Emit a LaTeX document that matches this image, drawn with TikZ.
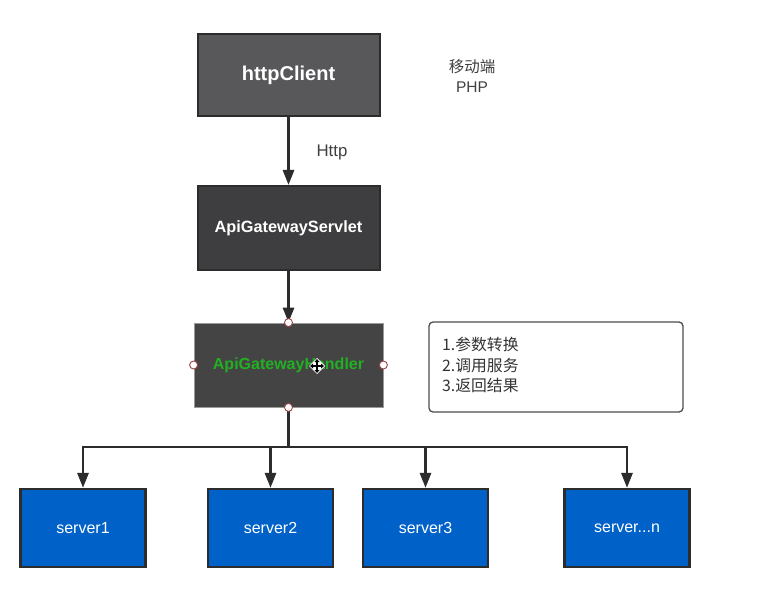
\documentclass[tikz,border=0pt]{standalone}
\usepackage{fontspec}
\setmainfont{Liberation Sans}
\newfontfamily\cjk{Noto Sans CJK SC}
\usetikzlibrary{arrows.meta}
\definecolor{boxA}{HTML}{58575A}
\definecolor{boxB}{HTML}{3E3E40}
\definecolor{boxC}{HTML}{444444}
\definecolor{edge}{HTML}{2C2C2C}
\definecolor{srv}{HTML}{0062C9}
\definecolor{hgreen}{HTML}{22B023}
\definecolor{handle}{HTML}{A04545}
\tikzset{
  darkbox/.style={draw=edge, line width=2pt, minimum width=182pt, minimum height=82pt, inner sep=0pt, text=white},
  srvbox/.style={draw=edge, fill=srv, line width=2.2pt, minimum width=125pt, minimum height=78pt, inner sep=0pt, text=white, font=\fontsize{16}{18}\selectfont},
  conn/.style={draw=edge, line width=2.8pt, -{Triangle[length=15pt,width=11pt]}},
  plain/.style={draw=edge, line width=2.8pt},
  handlept/.style={circle, draw=handle, fill=white, line width=0.9pt, minimum size=8pt, inner sep=0pt},
}
\begin{document}
\begin{tikzpicture}[x=1pt,y=-1pt]
\useasboundingbox (0,0) rectangle (781,601);
\fill[white] (0,0) rectangle (781,601);

\node[darkbox, fill=boxA, font=\bfseries\fontsize{20}{22}\selectfont] (client) at (288.5,75.5) {httpClient};
\node[darkbox, fill=boxB, minimum height=84pt, font=\bfseries\fontsize{16.3}{19}\selectfont] (servlet) at (288.5,228) {ApiGatewayServlet};
\node[draw=gray!80, fill=boxC, line width=0.8pt, minimum width=189pt, minimum height=84pt, inner sep=0pt, text=hgreen, font=\bfseries\fontsize{16}{19}\selectfont] (handler) at (288.5,365) {ApiGatewayHandler};

\draw[conn] (client.south) -- (servlet.north);
\node[font=\fontsize{16.8}{19}\selectfont, text=black!75] (http) at (332,152) {Http};
\draw[conn] (servlet.south) -- (handler.north);

\node[align=center, text=black!75, font=\fontsize{15.5}{20}\selectfont, inner sep=0pt] (mobile) at (472,76) {{\cjk 移动端}\\PHP};

\node[draw=black!70, rounded corners=4pt, line width=1.3pt, minimum width=254pt, minimum height=90pt, inner sep=0pt] (note) at (556,367) {};
\node[anchor=north west, align=left, inner sep=0pt, text=black!80, font=\cjk\fontsize{15.8}{20.5}\selectfont] (notetext) at (442,337) {1.参数转换\\2.调用服务\\3.返回结果};

\node[srvbox] (s1) at (83,528) {server1};
\node[srvbox] (s2) at (270.5,528) {server2};
\node[srvbox] (s3) at (425.5,528) {server3};
\node[srvbox] (sn) at (627,528) {server...n};

\coordinate (hub) at (288.5,447);
\coordinate (b1) at (83,447);
\coordinate (b2) at (270.5,447);
\coordinate (b3) at (425.5,447);
\coordinate (bn) at (627,447);
\draw[plain] (handler.south) -- (hub);
\draw[plain, line cap=rect] (b1) -- (bn);
\draw[conn] (b1) -- (s1.north);
\draw[conn] (b2) -- (s2.north);
\draw[conn] (b3) -- (s3.north);
\draw[conn] (bn) -- (sn.north);

\node[handlept] (h1) at (handler.north) {};
\node[handlept] (h2) at (handler.south) {};
\node[handlept] (h3) at (handler.west) {};
\node[handlept] (h4) at (handler.east) {};

% move cursor
\begin{scope}[shift={(317,366)}]
\fill[white] (0,-8) -- (3.5,-4.5) -- (4.5,-3.5) -- (8,0) -- (4.5,3.5) -- (3.5,4.5) -- (0,8) -- (-3.5,4.5) -- (-4.5,3.5) -- (-8,0) -- (-4.5,-3.5) -- (-3.5,-4.5) -- cycle;
\draw[black, line width=1.6pt] (-5,0) -- (5,0) (0,-5) -- (0,5);
\fill[black] (0,-7) -- (2.5,-4) -- (-2.5,-4) -- cycle;
\fill[black] (0,7) -- (2.5,4) -- (-2.5,4) -- cycle;
\fill[black] (-7,0) -- (-4,2.5) -- (-4,-2.5) -- cycle;
\fill[black] (7,0) -- (4,2.5) -- (4,-2.5) -- cycle;
\end{scope}
\end{tikzpicture}
\end{document}
